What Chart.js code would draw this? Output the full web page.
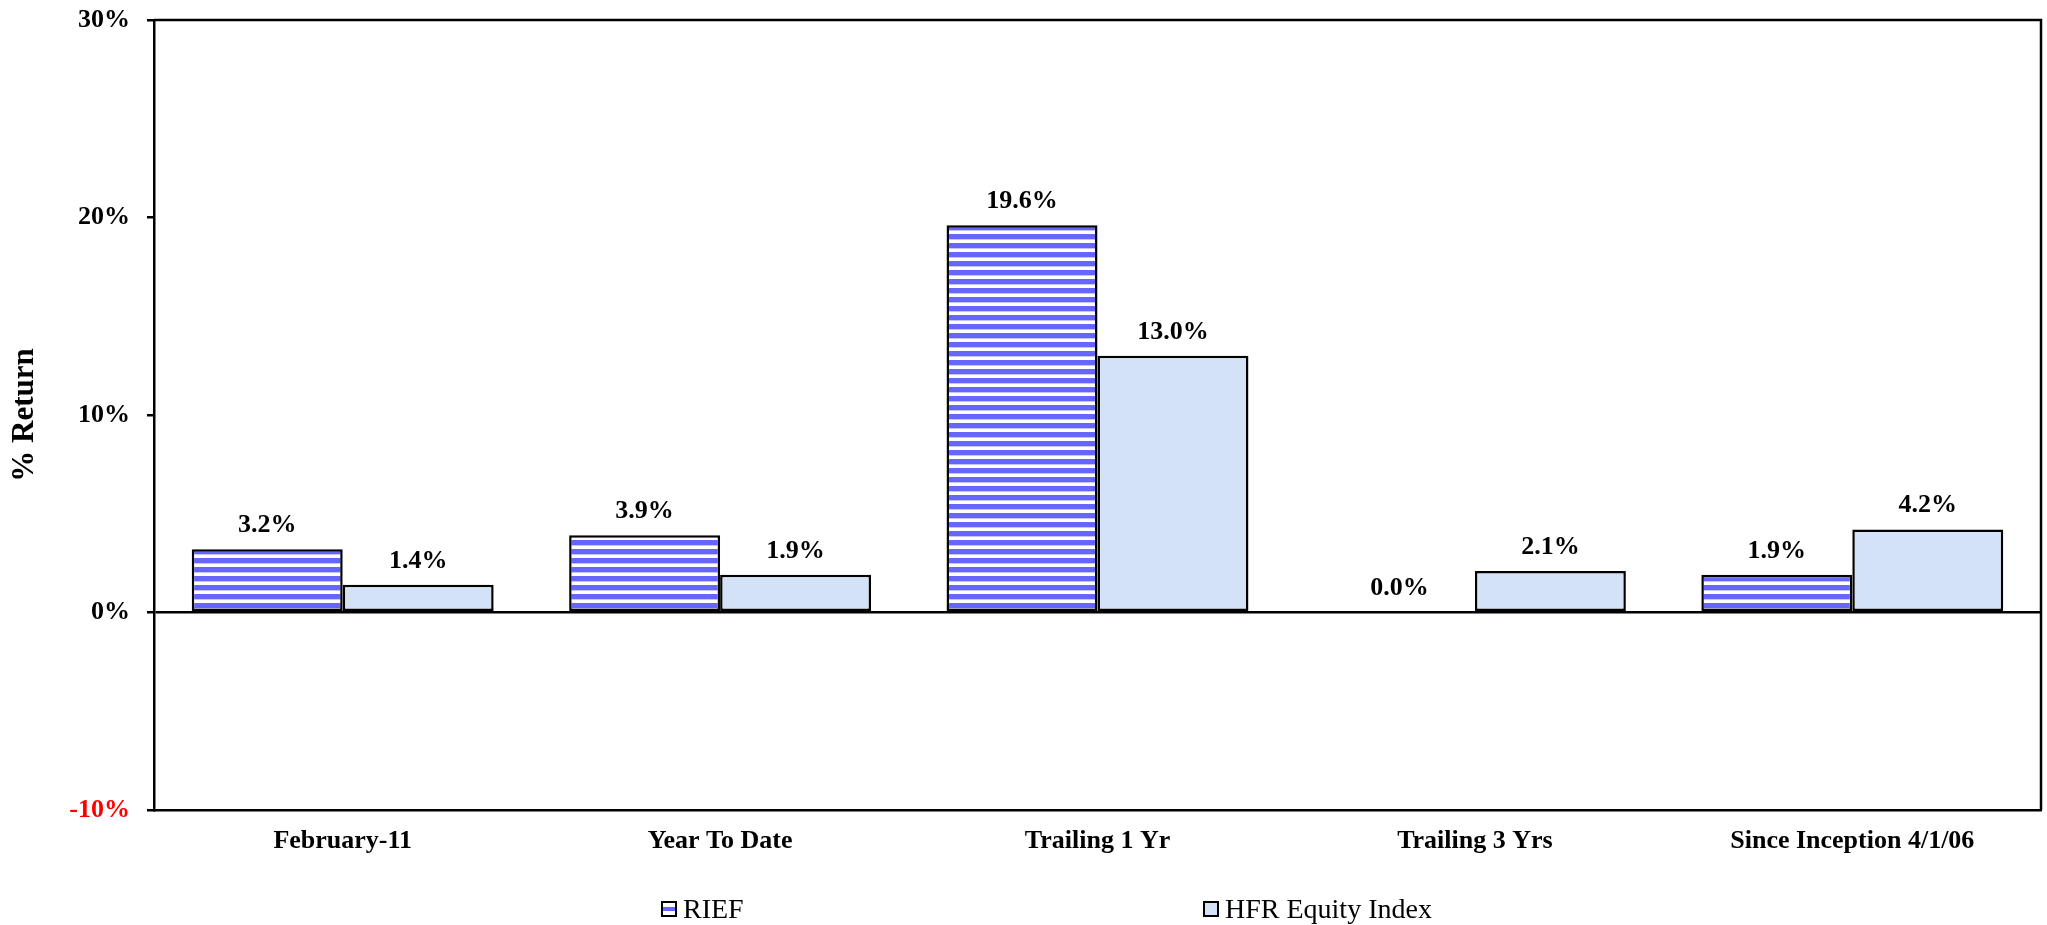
<!DOCTYPE html>
<html>
<head>
<meta charset="utf-8">
<script src="https://cdn.jsdelivr.net/npm/chart.js@4"></script>
<style>
    body { margin: 0; background: #fff; }
    #wrap { position: relative; width: 2047px; height: 925px; }
    .legend-item { position: absolute; top: 890px; height: 38px; display: flex; align-items: center;
        font-family: 'Liberation Serif', 'Times New Roman', serif; font-size: 28px; color: #000; }
    .swatch { width: 12px; height: 12px; border: 2.5px solid #000; margin-right: 6px; }
</style>
</head>
<body>
<div id="wrap">
    <canvas id="returnsChart" width="2047" height="925"></canvas>
    <div class="legend-item" style="left:661px">
        <div class="swatch" style="background: linear-gradient(to bottom, #fff 0 30%, #6666ff 30% 70%, #fff 70%)"></div>RIEF
    </div>
    <div class="legend-item" style="left:1203px">
        <div class="swatch" style="background:#d3e2f7"></div>HFR Equity Index
    </div>
</div>
<script>
// Performance comparison data
const categories = ['February-11', 'Year To Date', 'Trailing 1 Yr', 'Trailing 3 Yrs', 'Since Inception 4/1/06'];
const riefReturns = [3.2, 3.9, 19.6, 0.0, 1.9];
const hfrReturns = [1.4, 1.9, 13.0, 2.1, 4.2];
const yTicks = [-10, 0, 10, 20, 30];

const FONT = "'Liberation Serif', 'Times New Roman', serif";

// horizontal blue stripes for RIEF bars
function stripePattern() {
    const c = document.createElement('canvas');
    c.width = 9;
    c.height = 9;
    const g = c.getContext('2d');
    g.fillStyle = '#ffffff';
    g.fillRect(0, 0, 9, 9);
    g.fillStyle = '#6666ff';
    g.fillRect(0, 0, 9, 5);
    g.fillStyle = '#c4c4ff';
    g.fillRect(0, 5, 9, 1);
    return g.createPattern(c, 'repeat');
}

// value labels above bars
const barLabels = {
    id: 'barLabels',
    afterDatasetsDraw(chart) {
        const ctx = chart.ctx;
        ctx.save();
        ctx.font = `bold 26px ${FONT}`;
        ctx.fillStyle = '#000';
        ctx.textAlign = 'center';
        ctx.textBaseline = 'alphabetic';
        chart.data.datasets.forEach((ds, i) => {
            chart.getDatasetMeta(i).data.forEach((bar, j) => {
                ctx.fillText(ds.data[j].toFixed(1) + '%', bar.x, bar.y - 17);
            });
        });
        ctx.restore();
    }
};

// top and right edges of the plot box
const plotFrame = {
    id: 'plotFrame',
    afterDraw(chart) {
        const { left, right, top, bottom } = chart.chartArea;
        const ctx = chart.ctx;
        ctx.save();
        ctx.strokeStyle = '#000';
        ctx.lineWidth = 2.5;
        ctx.beginPath();
        ctx.moveTo(left, top);
        ctx.lineTo(right, top);
        ctx.lineTo(right, bottom);
        ctx.stroke();
        ctx.restore();
    }
};

new Chart(document.getElementById('returnsChart'), {
    type: 'bar',
    data: {
        labels: categories,
        datasets: [{
            label: 'RIEF',
            data: riefReturns,
            backgroundColor: stripePattern(),
            borderColor: '#000',
            borderWidth: 2.5,
            borderSkipped: false
        }, {
            label: 'HFR Equity Index',
            data: hfrReturns,
            backgroundColor: '#d3e2f7',
            borderColor: '#000',
            borderWidth: 2.5,
            borderSkipped: false
        }]
    },
    options: {
        responsive: false,
        animation: false,
        layout: { padding: { top: 20, right: 6, bottom: 52, left: 0 } },
        categoryPercentage: 0.8,
        barPercentage: 1.0,
        plugins: {
            legend: { display: false },
            tooltip: { enabled: false }
        },
        scales: {
            x: {
                grid: { display: false, drawTicks: false },
                border: { display: true, color: '#000', width: 2.5 },
                ticks: {
                    color: '#000',
                    padding: 16,
                    maxRotation: 0,
                    font: { family: FONT, size: 26, weight: 'bold' }
                }
            },
            y: {
                min: yTicks[0],
                max: yTicks[yTicks.length - 1],
                afterBuildTicks: scale => { scale.ticks = yTicks.map(v => ({ value: v })); },
                afterFit: scale => {
                    scale.width = 154;
                    scale.paddingTop = 0;
                    scale.paddingBottom = 0;
                },
                grid: {
                    color: ctx => ctx.tick && ctx.tick.value === 0 ? '#000' : 'transparent',
                    lineWidth: 2.5,
                    tickColor: '#000',
                    tickLength: 7
                },
                border: { display: true, color: '#000', width: 2.5 },
                ticks: {
                    padding: 17,
                    color: ctx => ctx.tick.value < 0 ? '#ff0000' : '#000',
                    font: { family: FONT, size: 26, weight: 'bold' },
                    callback: v => v + '%'
                },
                title: {
                    display: true,
                    text: '% Return',
                    color: '#000',
                    padding: { top: 6, bottom: 0 },
                    font: { family: FONT, size: 31, weight: 'bold' }
                }
            }
        }
    },
    plugins: [barLabels, plotFrame]
});
</script>
</body>
</html>
